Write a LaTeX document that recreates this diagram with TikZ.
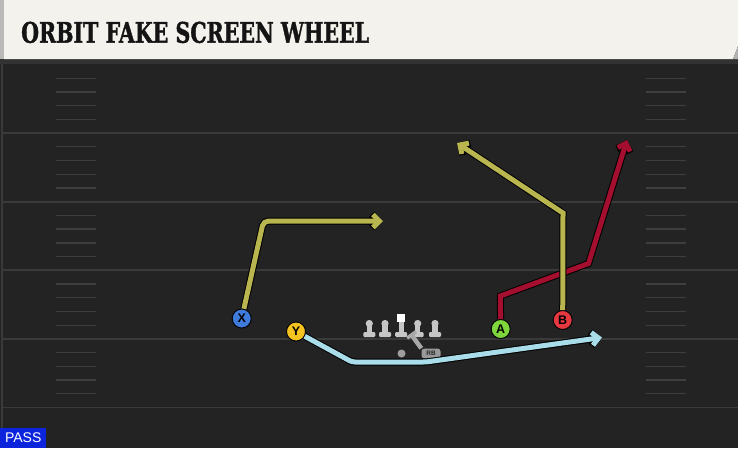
\documentclass[tikz,border=0pt]{standalone}
\usepackage{graphicx}
\usepackage{fontspec}
\setsansfont{Liberation Sans}
\newfontfamily\titlefont[FakeBold=1.6]{DejaVu Serif}
\usetikzlibrary{arrows.meta}

\definecolor{field}{HTML}{232323}
\definecolor{yardline}{HTML}{3A3A3A}
\definecolor{hashline}{HTML}{3E3E3E}
\definecolor{banner}{HTML}{F4F2EC}
\definecolor{olive}{HTML}{BAB64F}
\definecolor{crimson}{HTML}{A50F2F}
\definecolor{sky}{HTML}{A9DDEA}
\definecolor{xblue}{HTML}{3F7BDB}
\definecolor{yyellow}{HTML}{F6C420}
\definecolor{agreen}{HTML}{7ED63C}
\definecolor{bred}{HTML}{E5383F}
\definecolor{passblue}{HTML}{0B24DC}
\definecolor{lineman}{HTML}{C6C6C6}

\begin{document}
\begin{tikzpicture}[x=1pt, y=-1pt,
    player/.style={circle, draw=black, line width=0.9pt, minimum size=19pt,
      inner sep=0pt, font=\sffamily\bfseries\fontsize{12.5}{12.5}\selectfont},
    routeedge/.style={line width=7pt, black, -{Straight Barb[length=6.5pt,width=14pt]}},
    route/.style={line width=5pt, -{Straight Barb[length=6.5pt,width=13pt]}},
    hash/.style={hashline, line width=1.3pt},
    yard/.style={yardline, line width=1.8pt}]
    \useasboundingbox (0,0) rectangle (738,448);
    % field
    \fill[field] (0,0) rectangle (738,448);
    \draw[yardline, line width=2pt] (1.5,60) -- (1.5,448);
    \foreach \y in {133.1, 201.7, 270.3, 338.9, 407.5}
      \draw[yard] (3,\y) -- (738,\y);
    \foreach \y in {64.5, 133.1, 201.7, 270.3, 338.9} {
      \foreach \k in {1,...,4} {
        \draw[hash] (56,{\y+13.72*\k}) -- (96,{\y+13.72*\k});
        \draw[hash] (646,{\y+13.72*\k}) -- (686,{\y+13.72*\k});
      }
    }
    % offensive line
    \foreach \x in {369.3, 385, 417.7, 435} {
      \fill[lineman] (\x,323.5) circle (3.6pt);
      \fill[lineman] (\x-2.6,323.5) rectangle (\x+2.6,334);
      \fill[lineman, rounded corners=1.2pt] (\x-6,332) rectangle (\x+6,337);
    }
    \fill[lineman] (398.6,321) rectangle (403.8,334);
    \fill[lineman, rounded corners=1.2pt] (395.2,332) rectangle (407.2,337);
    \fill[white] (397,313.5) rectangle (405.4,322);
    % players
    \node[player, fill=xblue]   (X) at (241.7,318.5) {X};
    \node[player, fill=yyellow] (Y) at (296,331.5)   {Y};
    \node[player, fill=agreen]  (A) at (500.7,329)   {A};
    \node[player, fill=bred]    (B) at (562.7,320)   {B};
    \node[circle, fill=gray!75, minimum size=8pt, inner sep=0pt] (QB) at (401.5,353.5) {};
    \node[fill=gray!80, text=black!85, rounded corners=3pt, minimum width=19pt,
      minimum height=10pt, inner sep=0pt, font=\sffamily\bfseries\fontsize{6.5}{6.5}\selectfont]
      (RB) at (431,353.5) {RB};
    % route points
    \coordinate (xbreak) at (263.5,221);
    \coordinate (xend)   at (383,221);
    \coordinate (ydrop)  at (352,362);
    \coordinate (yflat)  at (426,362);
    \coordinate (yend)   at (602,337.5);
    \coordinate (astem)  at (500.3,296);
    \coordinate (abreak) at (588.5,263.5);
    \coordinate (aend)   at (627,140);
    \coordinate (bbreak) at (563,213);
    \coordinate (bend)   at (457,143);
    \coordinate (rbblock) at (410.5,333.5);
    % routes
    \draw[routeedge, rounded corners=5pt] (X) -- (xbreak) -- (xend);
    \draw[route, olive, rounded corners=5pt] (X) -- (xbreak) -- (xend);
    \draw[routeedge, rounded corners=3pt] (Y) -- (ydrop) -- (yflat) -- (yend);
    \draw[route, sky, rounded corners=3pt] (Y) -- (ydrop) -- (yflat) -- (yend);
    \draw[routeedge] (A) -- (astem) -- (abreak) -- (aend);
    \draw[route, crimson] (A) -- (astem) -- (abreak) -- (aend);
    \draw[routeedge] (B) -- (bbreak) -- (bend);
    \draw[route, olive] (B) -- (bbreak) -- (bend);
    \draw[lineman!85!black, line width=4.5pt, -{Bar[width=11pt,line width=3.5pt]}]
      (RB.north west) -- (rbblock);
    % title banner
    \fill[black!80] (0,59) rectangle (738,63.5);
    \fill[banner] (4,0) -- (738,0) -- (738,46) -- (733,59) -- (4,59) -- cycle;
    \fill[gray!60] (733,59) -- (738,46) -- (738,59) -- cycle;
    \fill[gray!55] (0,0) rectangle (4,59);
    \node[anchor=base west, inner sep=0pt, text=black!92] (title) at (21,42.7)
      {\resizebox{348pt}{21pt}{\titlefont\bfseries ORBIT FAKE SCREEN WHEEL}};
    \node[anchor=south west, fill=passblue, text=white, minimum width=46pt,
      minimum height=20pt, inner sep=0pt, font=\sffamily\fontsize{14}{14}\selectfont]
      (pass) at (0,448) {PASS};
\end{tikzpicture}
\end{document}
